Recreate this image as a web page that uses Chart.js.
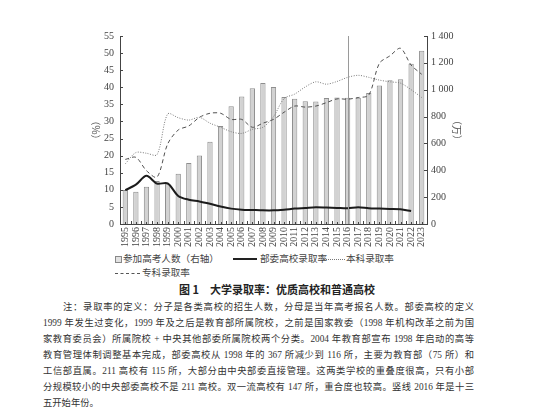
<!DOCTYPE html>
<html>
<head>
<meta charset="utf-8">
<script src="https://cdn.jsdelivr.net/npm/chart.js@4"></script>
<style>
  body { margin: 0; background: #fff; }
  #wrap { position: relative; width: 554px; height: 415px; overflow: hidden; color: #333;
          font-family: "Liberation Serif", "Noto Sans CJK SC", serif; }
  #c { position: absolute; left: 0; top: 0; }
  .lg { position: absolute; font-size: 9.6px; line-height: 12px; white-space: nowrap; color: #444; }
  .sw { position: absolute; }
  #title { position: absolute; left: 0; width: 554px; top: 281px; text-align: center;
           font-family: "Noto Sans CJK SC"; font-weight: bold; font-size: 11px; color: #222; }
  #note { position: absolute; left: 43px; width: 431px; top: 299px; font-size: 9.3px;
          line-height: 16px; color: #333; font-family: "Liberation Serif", "Noto Sans CJK SC"; }
  #note div { text-align: justify; text-align-last: justify; white-space: nowrap; }
  #note div.last { text-align-last: left; }
</style>
</head>
<body>
<div id="wrap">
  <canvas id="c" width="554" height="250"></canvas>

  <div class="sw" style="left:115px;top:256px;width:5px;height:5px;border:1px solid #888;background:#e2e2e2"></div>
  <div class="lg" style="left:123px;top:253px">参加高考人数（右轴）</div>
  <div class="sw" style="left:233px;top:258px;width:24px;border-top:2px solid #222"></div>
  <div class="lg" style="left:260px;top:253px">部委高校录取率</div>
  <div class="sw" style="left:323px;top:259px;width:22px;border-top:1px dotted #777"></div>
  <div class="lg" style="left:346px;top:253px">本科录取率</div>
  <div class="sw" style="left:115px;top:273px;width:25px;border-top:1px dashed #555"></div>
  <div class="lg" style="left:142px;top:267px">专科录取率</div>

  <div id="title">图 1　大学录取率：优质高校和普通高校</div>

  <div id="note">
    <div style="text-indent:20px">注：录取率的定义：分子是各类高校的招生人数，分母是当年高考报名人数。部委高校的定义</div>
    <div>1999 年发生过变化，1999 年及之后是教育部所属院校，之前是国家教委（1998 年机构改革之前为国</div>
    <div>家教育委员会）所属院校 + 中央其他部委所属院校两个分类。2004 年教育部宣布 1998 年启动的高等</div>
    <div>教育管理体制调整基本完成，部委高校从 1998 年的 367 所减少到 116 所，主要为教育部（75 所）和</div>
    <div>工信部直属。211 高校有 115 所，大部分由中央部委直接管理。这两类学校的重叠度很高，只有小部</div>
    <div>分规模较小的中央部委高校不是 211 高校。双一流高校有 147 所，重合度也较高。竖线 2016 年是十三</div>
    <div class="last">五开始年份。</div>
  </div>
</div>

<script>
const years = ['1995','1996','1997','1998','1999','2000','2001','2002','2003','2004',
  '2005','2006','2007','2008','2009','2010','2011','2012','2013','2014',
  '2015','2016','2017','2018','2019','2020','2021','2022','2023'];

// 参加高考人数（万，右轴）
const applicants = [253, 241, 278, 320, 300, 375, 454, 510, 613, 729,
  877, 950, 1010, 1050, 1020, 946, 933, 915, 912, 939,
  942, 940, 940, 975, 1031, 1071, 1078, 1193, 1291];

// 部委高校录取率（%）
const ministryRate = [9.9, 11.5, 14.1, 11.8, 11.9, 8.2, 7.1, 6.6, 5.9, 5.1,
  4.5, 4.2, 4.1, 4.0, 4.0, 4.2, 4.5, 4.7, 4.9, 4.8,
  4.7, 4.6, 4.9, 4.6, 4.5, 4.4, 4.3, 3.8, null];

// 本科录取率（%）
const bachelorRate = [17.6, 20.9, 20.7, 20.3, 32.2, 31.1, 30.4, 31.2, 29.5, 28.3,
  27.0, 26.5, 27.7, 28.3, 31.4, 36.7, 38.0, 40.1, 41.6, 40.9,
  41.7, 42.9, 43.5, 42.9, 42.1, 41.6, 41.2, 39.3, 37.0];

// 专科录取率（%）
const collegeRate = [18.9, 19.5, 15.6, 13.7, 23.4, 27.5, 28.7, 31.2, 32.4, 32.4,
  30.6, 30.6, 28.3, 29.5, 30.6, 32.7, 34.5, 34.2, 34.5, 35.5,
  36.6, 36.5, 37.0, 37.7, 47.0, 49.2, 51.4, 46.5, 43.8];

const markYear = '2016';

const tickFont = { family: 'Liberation Serif', size: 10 };
const titleFont = { family: 'Noto Sans CJK SC', size: 10 };

// small inward tick marks and the 2016 marker line
const extras = {
  id: 'extras',
  afterDatasetsDraw(chart) {
    const { ctx, chartArea: a, scales: { x, y, y1 } } = chart;
    ctx.save();
    ctx.strokeStyle = '#444';
    ctx.lineWidth = 1;
    ctx.beginPath();
    y.ticks.forEach(t => {
      const p = Math.round(y.getPixelForValue(t.value)) + 0.5;
      ctx.moveTo(a.left, p); ctx.lineTo(a.left + 3, p);
    });
    y1.ticks.forEach(t => {
      const p = Math.round(y1.getPixelForValue(t.value)) + 0.5;
      ctx.moveTo(a.right, p); ctx.lineTo(a.right - 3, p);
    });
    const half = (a.right - a.left) / years.length / 2;
    years.forEach((yr, i) => {
      const c = x.getPixelForValue(i);
      const b = Math.round(c - half) + 0.5;
      ctx.moveTo(b, a.bottom); ctx.lineTo(b, a.bottom - 3);
      const m = Math.round(c) + 0.5;
      ctx.moveTo(m, a.bottom); ctx.lineTo(m, a.bottom - 2);
    });
    ctx.stroke();

    ctx.strokeStyle = '#9a9a9a';
    ctx.beginPath();
    const px = Math.round(x.getPixelForValue(years.indexOf(markYear))) + 0.5;
    ctx.moveTo(px, a.top); ctx.lineTo(px, a.bottom);
    ctx.stroke();
    ctx.restore();
  }
};

const fmt = v => v >= 1000 ? String(v).replace(/(\d)(\d{3})$/, '$1 $2') : String(v);

new Chart(document.getElementById('c').getContext('2d'), {
  type: 'bar',
  data: {
    labels: years,
    datasets: [{
      label: '参加高考人数（右轴）',
      data: applicants,
      yAxisID: 'y1',
      backgroundColor: '#d2d2d2',
      borderColor: '#8e8e8e',
      borderWidth: 1,
      barPercentage: 0.5,
      categoryPercentage: 1,
      order: 2
    }, {
      type: 'line',
      label: '部委高校录取率',
      data: ministryRate,
      yAxisID: 'y',
      borderColor: '#1c1c1c',
      borderWidth: 2,
      pointRadius: 0,
      tension: 0.3,
      order: 1
    }, {
      type: 'line',
      label: '本科录取率',
      data: bachelorRate,
      yAxisID: 'y',
      borderColor: '#7a7a7a',
      borderWidth: 1,
      borderDash: [1, 1.5],
      pointRadius: 0,
      tension: 0.3,
      order: 1
    }, {
      type: 'line',
      label: '专科录取率',
      data: collegeRate,
      yAxisID: 'y',
      borderColor: '#505050',
      borderWidth: 1,
      borderDash: [4, 3],
      pointRadius: 0,
      tension: 0.3,
      order: 1
    }]
  },
  options: {
    responsive: false,
    animation: false,
    devicePixelRatio: 1,
    layout: { padding: { left: 90, right: 91, top: 36, bottom: 0 } },
    plugins: { legend: { display: false }, tooltip: { enabled: false } },
    scales: {
      x: {
        grid: { display: false, drawTicks: false },
        border: { display: true, color: '#444', width: 1 },
        ticks: { font: tickFont, color: '#444', padding: 3, autoSkip: false,
                 minRotation: 90, maxRotation: 90 },
        afterFit: s => { s.height = 26; }
      },
      y: {
        position: 'left',
        min: 0, max: 55,
        grid: { display: false, drawTicks: false },
        border: { display: true, color: '#444', width: 1 },
        ticks: { stepSize: 5, font: tickFont, color: '#444', padding: 6 },
        title: { display: true, text: '（%）', font: titleFont, color: '#555', padding: 0 },
        afterFit: s => { s.width = 30; }
      },
      y1: {
        position: 'right',
        min: 0, max: 1400,
        grid: { display: false, drawTicks: false },
        border: { display: true, color: '#444', width: 1 },
        ticks: { stepSize: 200, font: tickFont, color: '#444', padding: 4, callback: fmt },
        title: { display: true, text: '（万）', font: titleFont, color: '#555', padding: 0 },
        afterFit: s => { s.width = 36; }
      }
    }
  },
  plugins: [extras]
});
</script>
</body>
</html>
